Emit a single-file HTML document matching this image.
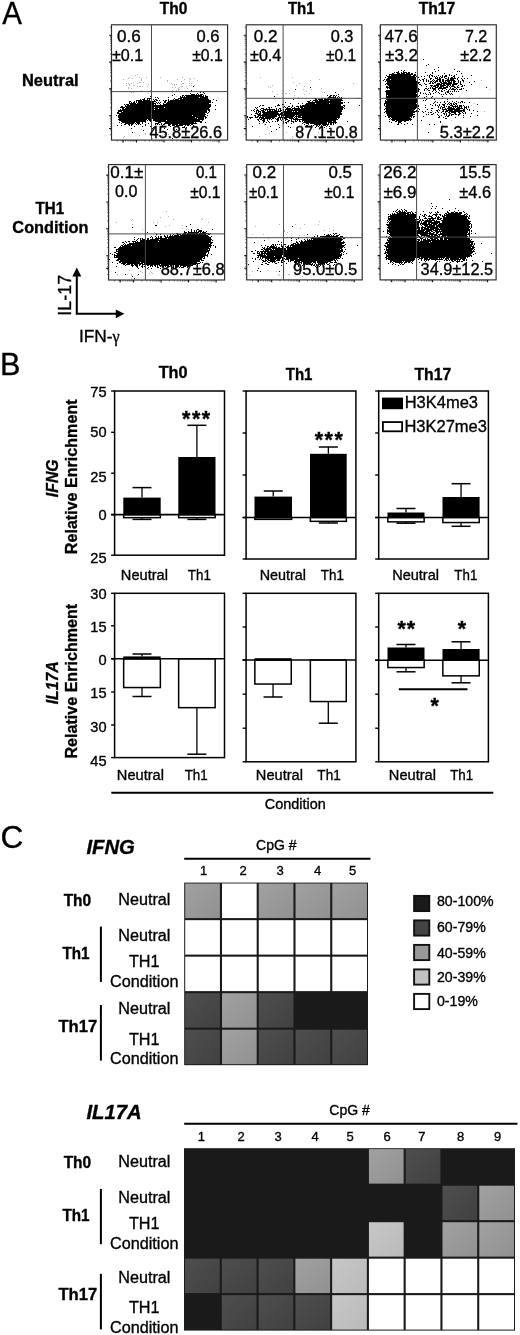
<!DOCTYPE html>
<html lang="en">
<head>
<meta charset="utf-8">
<title>Figure: Th0 / Th1 / Th17 cytokine expression, histone marks and CpG methylation</title>
<style>
html,body{margin:0;padding:0;background:#fff;}
body{width:520px;height:1335px;overflow:hidden;font-family:"Liberation Sans", sans-serif;}
svg{display:block;}
svg text{stroke:#000;stroke-width:.34px;}
</style>
</head>
<body>
<svg width="520" height="1335" viewBox="0 0 520 1335" font-family='"Liberation Sans", sans-serif' fill="#000">
<defs><filter id="sf" x="-5%" y="-5%" width="110%" height="110%"><feGaussianBlur stdDeviation="0.45"/></filter><linearGradient id="gD" x1="0" y1="0" x2="1" y2="1"><stop offset="0" stop-color="#4e4e4e"/><stop offset="1" stop-color="#414141"/></linearGradient><linearGradient id="gM" x1="0" y1="0" x2="1" y2="1"><stop offset="0" stop-color="#a1a1a1"/><stop offset="1" stop-color="#919191"/></linearGradient><linearGradient id="gL" x1="0" y1="0" x2="1" y2="1"><stop offset="0" stop-color="#c7c7c7"/><stop offset="1" stop-color="#bababa"/></linearGradient></defs>
<path d="M137 74h1M135 75h1M129 77h1M139 77h1M146 77h1M160 77h1M182 77h1M128 78h1M132 78h1M141 78h1M189 78h1M194 78h1M123 79h1M141 79h1M177 79h1M184 79h1M190 79h1M141 80h1M167 80h1M197 80h1M167 81h1M181 81h1M189 81h1M133 82h1M139 82h2M143 82h1M126 83h1M128 83h1M131 83h1M137 83h1M171 83h1M182 83h2M189 83h1M191 83h1M129 84h1M148 84h1M172 84h1M174 84h1M176 84h1M181 84h1M126 85h1M129 85h1M133 85h1M151 85h1M174 85h1M189 85h1M191 85h1M194 85h1M137 86h1M139 86h2M142 86h1M147 86h1M181 86h2M186 86h1M128 87h1M172 87h1M175 87h1M179 87h1M128 88h1M131 88h1M178 88h1M187 88h1M178 89h2M141 90h1M150 90h1M172 90h1M176 90h1M178 90h1M124 91h1M130 91h1M133 91h1M171 91h1M180 91h1M185 91h1M131 92h1M133 92h1M172 92h1M148 93h1M176 96h1M145 97h1M179 98h1M161 127h1M196 127h1M141 129h1M162 131h1M134 132h1M150 132h1M158 132h1M166 132h1M207 132h1M145 133h1M174 133h1M206 133h1M145 134h1M164 134h1M168 134h1M180 134h1M139 135h1M154 135h1M162 135h1M124 136h1M185 136h1M123 137h1M152 138h1M196 138h1" stroke="#b5b5b5" stroke-width="1" fill="none" transform="translate(0,0.5)" shape-rendering="crispEdges"/>
<path d="M193 86h1M191 90h1M200 92h1M203 92h1M190 93h1M197 93h1M204 93h1M174 94h1M191 94h4M196 94h1M198 94h1M200 94h3M172 95h1M182 95h2M185 95h17M203 95h1M205 95h1M150 96h1M180 96h1M182 96h1M184 96h1M186 96h18M205 96h3M151 97h1M155 97h1M157 97h1M168 97h1M180 97h19M200 97h8M144 98h1M147 98h4M158 98h1M174 98h1M178 98h4M183 98h25M140 99h1M142 99h3M147 99h1M149 99h1M151 99h1M153 99h1M155 99h2M168 99h1M173 99h1M175 99h4M180 99h29M213 99h1M136 100h6M143 100h7M154 100h1M156 100h2M159 100h1M163 100h1M165 100h2M168 100h1M170 100h41M216 100h1M129 101h2M134 101h1M136 101h1M138 101h18M164 101h2M168 101h43M129 102h1M131 102h1M133 102h2M136 102h1M138 102h16M156 102h1M158 102h1M160 102h1M164 102h2M167 102h44M212 102h1M129 103h7M137 103h19M157 103h1M159 103h1M163 103h1M166 103h43M124 104h1M126 104h3M130 104h24M155 104h1M160 104h1M163 104h48M125 105h1M127 105h84M215 105h1M121 106h2M125 106h86M120 107h5M126 107h28M155 107h9M165 107h45M122 108h2M125 108h33M159 108h50M120 109h1M122 109h32M155 109h55M215 109h1M118 110h89M208 110h2M118 111h4M123 111h84M209 111h1M117 112h2M121 112h86M208 112h1M117 113h88M207 113h1M119 114h87M116 115h1M118 115h74M193 115h12M207 115h1M118 116h88M118 117h77M196 117h8M205 117h2M119 118h78M198 118h6M205 118h1M118 119h29M148 119h4M153 119h51M119 120h27M147 120h1M149 120h3M153 120h13M167 120h33M202 120h1M121 121h25M150 121h2M155 121h47M119 122h1M122 122h13M136 122h4M142 122h1M145 122h1M158 122h3M165 122h29M195 122h1M200 122h2M205 122h1M121 123h1M125 123h9M135 123h1M137 123h3M142 123h1M148 123h1M151 123h1M155 123h4M161 123h1M164 123h33M124 124h2M128 124h2M131 124h2M136 124h1M138 124h1M140 124h1M145 124h1M155 124h1M157 124h1M159 124h1M161 124h1M163 124h2M168 124h3M172 124h6M179 124h11M191 124h2M117 125h1M121 125h1M129 125h1M131 125h1M145 125h1M151 125h1M162 125h1M168 125h2M172 125h3M176 125h7M185 125h1M187 125h2M190 125h1M193 125h1M134 126h1M142 126h1M150 126h1M170 126h1M176 126h1M178 126h1M184 126h1M153 127h1M173 127h1M182 127h3M186 127h1M131 128h1M151 128h2M164 128h1M167 129h1M176 129h1M143 130h1M132 132h1M156 132h1M172 138h1" stroke="#000" stroke-width="1" fill="none" transform="translate(0,0.5)" filter="url(#sf)"/>
<rect x="111.5" y="24.8" width="116.1" height="115.3" fill="none" stroke="#2a2a2a" stroke-width="1.15"/>
<line x1="151.5" y1="24.8" x2="151.5" y2="140.1" stroke="#4a4a4a" stroke-width="1"/>
<line x1="111.5" y1="91.6" x2="227.6" y2="91.6" stroke="#4a4a4a" stroke-width="1"/>
<path d="M110.0 134.6H111.5M117.3 140.1V141.6M110.0 129.8H111.5M122.1 140.1V141.6M110.0 126.5H111.5M125.6 140.1V141.6M110.0 123.9H111.5M128.2 140.1V141.6M110.0 121.8H111.5M130.4 140.1V141.6M110.0 120.0H111.5M132.2 140.1V141.6M110.0 118.4H111.5M133.8 140.1V141.6M110.0 117.0H111.5M135.2 140.1V141.6M110.0 107.7H111.5M144.8 140.1V141.6M110.0 103.0H111.5M149.6 140.1V141.6M110.0 99.6H111.5M153.1 140.1V141.6M110.0 97.0H111.5M155.7 140.1V141.6M110.0 94.9H111.5M157.9 140.1V141.6M110.0 93.1H111.5M159.7 140.1V141.6M110.0 91.6H111.5M161.3 140.1V141.6M110.0 90.2H111.5M162.7 140.1V141.6M110.0 80.9H111.5M172.3 140.1V141.6M110.0 76.1H111.5M177.1 140.1V141.6M110.0 72.8H111.5M180.6 140.1V141.6M110.0 70.2H111.5M183.2 140.1V141.6M110.0 68.1H111.5M185.4 140.1V141.6M110.0 66.3H111.5M187.2 140.1V141.6M110.0 64.7H111.5M188.8 140.1V141.6M110.0 63.3H111.5M190.2 140.1V141.6M110.0 54.0H111.5M199.8 140.1V141.6M110.0 49.3H111.5M204.6 140.1V141.6M110.0 45.9H111.5M208.1 140.1V141.6M110.0 43.3H111.5M210.7 140.1V141.6M110.0 41.2H111.5M212.9 140.1V141.6M110.0 39.4H111.5M214.7 140.1V141.6M110.0 37.9H111.5M216.3 140.1V141.6M110.0 36.5H111.5M217.7 140.1V141.6M110.0 27.2H111.5" stroke="#333" stroke-width="0.7" fill="none"/>
<path d="M109.1 115.8H111.5M136.5 140.1V142.5M109.1 88.9H111.5M164.0 140.1V142.5M109.1 62.1H111.5M191.5 140.1V142.5M109.1 35.2H111.5M219.0 140.1V142.5M109.1 128.5H111.5M123.1 140.1V142.5" stroke="#111" stroke-width="1.1" fill="none"/>
<text transform="translate(116.93 41.9) scale(1.0600 1)" font-size="16.1">0.6</text>
<text x="111.94" y="61.0" font-size="16.1">±0.1</text>
<text transform="translate(196.54 41.9) scale(1.0281 1)" font-size="16.1">0.6</text>
<text transform="translate(192.13 61.0) scale(0.9818 1)" font-size="16.1">±0.1</text>
<text transform="translate(149.39 138.4) scale(1.0162 1)" font-size="16.1">45.8±26.6</text>
<path d="M260 77h1M292 77h1M319 79h1M310 80h1M293 82h1M247 83h1M299 83h1M353 83h1M272 85h1M283 85h1M296 85h1M268 86h1M304 86h1M270 87h1M321 88h1M303 89h1M311 89h1M343 89h1M289 90h1M272 91h1M294 91h1M306 91h1M322 92h1M324 92h1M282 93h1M285 93h2M289 93h1M309 93h1M277 94h1M304 94h1M294 95h1M298 97h1M279 98h1M313 119h1M288 122h1M262 123h1M264 124h1M282 124h1M279 125h1M301 125h1M267 127h1M326 128h1M313 129h1M301 130h1M323 130h1M286 132h1M318 132h1M269 133h1M265 134h1M283 134h1M330 134h1M259 136h1M292 136h1M318 136h1M292 138h1" stroke="#b5b5b5" stroke-width="1" fill="none" transform="translate(0,0.5)" shape-rendering="crispEdges"/>
<path d="M310 87h1M295 89h1M335 92h1M338 94h1M327 95h1M330 95h2M333 95h2M336 95h1M274 96h1M329 96h2M333 96h1M335 96h1M338 96h1M328 97h8M337 97h1M339 97h1M341 97h1M314 98h2M321 98h2M324 98h2M327 98h3M333 98h6M340 98h3M358 98h1M293 99h1M315 99h2M318 99h5M324 99h18M310 100h1M313 100h5M319 100h10M330 100h13M307 101h3M312 101h1M315 101h26M285 102h1M308 102h35M344 102h1M348 102h1M290 103h1M298 103h1M302 103h1M306 103h9M316 103h13M330 103h13M278 104h1M282 104h2M305 104h36M260 105h1M262 105h2M277 105h3M292 105h1M300 105h1M302 105h39M343 105h2M359 105h1M259 106h1M275 106h1M284 106h1M288 106h2M292 106h1M296 106h3M300 106h43M344 106h1M255 107h1M257 107h1M268 107h2M271 107h1M283 107h1M285 107h1M287 107h1M291 107h1M294 107h1M298 107h1M300 107h3M304 107h40M256 108h1M261 108h3M266 108h1M269 108h1M276 108h1M279 108h2M286 108h5M292 108h8M301 108h42M344 108h1M254 109h1M257 109h1M260 109h1M263 109h12M276 109h1M278 109h1M280 109h1M283 109h1M285 109h8M294 109h49M251 110h1M253 110h1M256 110h3M261 110h3M265 110h1M267 110h1M269 110h2M272 110h1M274 110h3M278 110h1M280 110h2M283 110h1M285 110h1M287 110h55M254 111h1M256 111h1M258 111h3M262 111h3M267 111h14M283 111h9M293 111h1M295 111h2M298 111h44M256 112h1M258 112h1M260 112h1M262 112h16M281 112h60M255 113h3M259 113h2M263 113h16M280 113h3M284 113h58M251 114h1M257 114h4M262 114h80M254 115h2M258 115h19M278 115h2M281 115h14M296 115h1M298 115h42M247 116h1M255 116h1M257 116h2M260 116h1M262 116h15M279 116h1M281 116h1M283 116h1M285 116h9M295 116h6M302 116h38M247 117h1M249 117h4M255 117h3M259 117h5M265 117h10M278 117h15M294 117h1M296 117h1M298 117h42M250 118h1M259 118h1M261 118h10M272 118h2M275 118h1M277 118h2M280 118h1M282 118h1M284 118h3M289 118h5M295 118h3M302 118h35M338 118h1M248 119h1M257 119h2M260 119h2M263 119h2M267 119h1M269 119h1M271 119h1M276 119h3M280 119h1M282 119h1M285 119h3M291 119h1M293 119h45M258 120h1M262 120h3M267 120h1M277 120h2M281 120h1M285 120h1M288 120h2M291 120h1M295 120h1M297 120h1M299 120h1M302 120h34M259 121h1M263 121h2M268 121h1M272 121h1M275 121h1M277 121h1M283 121h1M287 121h2M291 121h3M295 121h2M299 121h2M302 121h1M304 121h28M333 121h3M347 121h1M263 122h1M266 122h1M269 122h1M283 122h1M285 122h2M293 122h1M303 122h24M328 122h9M259 123h1M283 123h1M286 123h1M291 123h1M302 123h1M306 123h3M310 123h17M328 123h1M330 123h2M333 123h1M335 123h1M265 124h1M278 124h1M304 124h1M308 124h1M314 124h7M322 124h7M330 124h2M333 124h1M306 125h2M311 125h1M313 125h1M316 125h2M319 125h1M321 125h1M323 125h3M327 125h1M252 126h1M270 126h1M288 126h1M316 126h1M318 126h1M321 126h1M326 126h1M329 126h1M279 127h1M290 127h1M315 127h1M324 127h1M329 128h1M276 129h1M271 131h1" stroke="#000" stroke-width="1" fill="none" transform="translate(0,0.5)" filter="url(#sf)"/>
<rect x="246.2" y="24.8" width="115.7" height="115.3" fill="none" stroke="#2a2a2a" stroke-width="1.15"/>
<line x1="283.1" y1="24.8" x2="283.1" y2="140.1" stroke="#4a4a4a" stroke-width="1"/>
<line x1="246.2" y1="98.3" x2="361.9" y2="98.3" stroke="#4a4a4a" stroke-width="1"/>
<path d="M244.7 134.6H246.2M252.0 140.1V141.6M244.7 129.8H246.2M256.8 140.1V141.6M244.7 126.5H246.2M260.3 140.1V141.6M244.7 123.9H246.2M262.9 140.1V141.6M244.7 121.8H246.2M265.1 140.1V141.6M244.7 120.0H246.2M266.9 140.1V141.6M244.7 118.4H246.2M268.5 140.1V141.6M244.7 117.0H246.2M269.9 140.1V141.6M244.7 107.7H246.2M279.5 140.1V141.6M244.7 103.0H246.2M284.3 140.1V141.6M244.7 99.6H246.2M287.8 140.1V141.6M244.7 97.0H246.2M290.4 140.1V141.6M244.7 94.9H246.2M292.6 140.1V141.6M244.7 93.1H246.2M294.4 140.1V141.6M244.7 91.6H246.2M296.0 140.1V141.6M244.7 90.2H246.2M297.4 140.1V141.6M244.7 80.9H246.2M307.0 140.1V141.6M244.7 76.1H246.2M311.8 140.1V141.6M244.7 72.8H246.2M315.3 140.1V141.6M244.7 70.2H246.2M317.9 140.1V141.6M244.7 68.1H246.2M320.1 140.1V141.6M244.7 66.3H246.2M321.9 140.1V141.6M244.7 64.7H246.2M323.5 140.1V141.6M244.7 63.3H246.2M324.9 140.1V141.6M244.7 54.0H246.2M334.5 140.1V141.6M244.7 49.3H246.2M339.3 140.1V141.6M244.7 45.9H246.2M342.8 140.1V141.6M244.7 43.3H246.2M345.4 140.1V141.6M244.7 41.2H246.2M347.6 140.1V141.6M244.7 39.4H246.2M349.4 140.1V141.6M244.7 37.9H246.2M351.0 140.1V141.6M244.7 36.5H246.2M352.4 140.1V141.6M244.7 27.2H246.2" stroke="#333" stroke-width="0.7" fill="none"/>
<path d="M243.8 115.8H246.2M271.2 140.1V142.5M243.8 88.9H246.2M298.7 140.1V142.5M243.8 62.1H246.2M326.2 140.1V142.5M243.8 35.2H246.2M353.7 140.1V142.5M243.8 128.5H246.2M257.8 140.1V142.5" stroke="#111" stroke-width="1.1" fill="none"/>
<text transform="translate(253.77 41.8) scale(1.0600 1)" font-size="16.1">0.2</text>
<text x="250.08" y="60.8" font-size="16.1">±0.4</text>
<text transform="translate(330.75 41.8) scale(1.0138 1)" font-size="16.1">0.3</text>
<text transform="translate(326.03 60.8) scale(0.9651 1)" font-size="16.1">±0.1</text>
<text x="295.24" y="137.9" font-size="16.1">87.1±0.8</text>
<path d="M458 70h1M452 72h1M462 75h1M481 80h1M448 82h1M463 82h1M435 83h1M430 85h1M446 86h1M415 87h1M459 87h1M490 89h1M426 90h1M416 91h1M446 91h1M459 96h1M432 98h1M460 103h1M474 103h1M450 105h1M471 105h1M451 106h1M468 107h1M432 108h1M432 111h1M484 111h1M451 120h1M429 124h1M442 124h1M472 131h1" stroke="#b5b5b5" stroke-width="1" fill="none" transform="translate(0,0.5)" shape-rendering="crispEdges"/>
<path d="M423 59h1M428 64h1M426 65h1M438 67h1M434 69h1M454 69h1M401 70h1M404 70h1M438 70h1M398 71h1M403 71h1M435 71h1M457 71h1M459 71h1M394 72h1M396 72h3M401 72h1M403 72h4M408 72h2M415 72h1M425 72h1M432 72h1M392 73h2M397 73h3M401 73h4M406 73h4M411 73h2M432 73h1M444 73h1M461 73h1M389 74h24M414 74h2M430 74h1M449 74h1M456 74h1M386 75h1M389 75h1M391 75h20M413 75h3M427 75h1M429 75h1M431 75h2M438 75h1M442 75h1M445 75h2M449 75h1M451 75h1M454 75h1M471 75h1M387 76h28M416 76h1M421 76h1M424 76h1M429 76h1M432 76h1M434 76h1M436 76h1M440 76h1M442 76h1M444 76h3M453 76h2M462 76h1M385 77h1M388 77h28M418 77h1M429 77h1M435 77h1M437 77h1M439 77h1M441 77h2M444 77h1M448 77h1M451 77h2M454 77h1M458 77h1M387 78h29M424 78h1M430 78h2M435 78h3M439 78h2M445 78h2M448 78h1M450 78h6M457 78h1M461 78h1M464 78h1M467 78h1M384 79h1M386 79h4M391 79h25M419 79h1M422 79h2M426 79h1M430 79h1M433 79h1M437 79h4M442 79h2M447 79h2M450 79h4M457 79h1M462 79h1M383 80h1M386 80h30M417 80h1M420 80h1M423 80h1M426 80h1M428 80h1M432 80h1M434 80h1M436 80h2M439 80h2M442 80h2M445 80h10M458 80h1M462 80h2M385 81h1M387 81h31M423 81h1M426 81h1M428 81h1M430 81h2M433 81h1M435 81h3M439 81h2M442 81h2M445 81h1M447 81h3M451 81h1M453 81h3M458 81h1M460 81h1M463 81h1M474 81h1M387 82h33M430 82h1M432 82h1M434 82h2M440 82h2M443 82h4M448 82h4M453 82h2M458 82h1M460 82h1M469 82h1M386 83h33M424 83h1M429 83h2M432 83h2M437 83h3M441 83h11M453 83h5M460 83h1M385 84h1M387 84h31M419 84h2M425 84h2M436 84h6M443 84h2M446 84h5M452 84h5M460 84h2M471 84h1M388 85h30M421 85h1M430 85h3M434 85h5M440 85h6M447 85h2M450 85h1M452 85h2M458 85h1M462 85h1M464 85h1M386 86h2M389 86h29M426 86h1M431 86h1M433 86h3M437 86h2M440 86h4M446 86h2M449 86h1M451 86h4M457 86h1M461 86h2M386 87h32M430 87h1M432 87h1M435 87h3M439 87h3M443 87h5M450 87h1M454 87h2M457 87h2M486 87h1M387 88h1M389 88h30M425 88h2M428 88h1M430 88h1M432 88h4M438 88h8M450 88h1M452 88h2M456 88h1M461 88h1M463 88h1M390 89h27M418 89h2M424 89h1M427 89h1M433 89h3M438 89h1M442 89h1M446 89h1M449 89h1M451 89h5M457 89h1M459 89h3M386 90h33M424 90h1M428 90h2M433 90h1M435 90h1M439 90h1M441 90h1M444 90h1M448 90h1M454 90h1M466 90h1M385 91h34M432 91h1M436 91h1M441 91h2M447 91h2M450 91h1M452 91h1M454 91h1M456 91h1M458 91h1M386 92h32M420 92h1M429 92h1M435 92h1M438 92h1M445 92h1M447 92h2M386 93h30M420 93h1M423 93h1M425 93h1M430 93h1M433 93h1M439 93h1M445 93h1M449 93h1M451 93h1M386 94h32M426 94h1M428 94h1M430 94h1M441 94h1M443 94h1M446 94h1M450 94h1M452 94h1M386 95h1M388 95h30M419 95h1M386 96h33M426 96h1M432 96h1M442 96h1M386 97h30M424 97h1M431 97h1M385 98h1M387 98h30M442 98h1M386 99h32M426 99h1M434 99h1M447 99h1M385 100h1M387 100h31M423 100h1M425 100h1M385 101h33M435 101h1M444 101h1M447 101h1M452 101h1M456 101h1M461 101h2M385 102h32M434 102h1M437 102h1M440 102h1M444 102h1M449 102h1M454 102h1M458 102h1M460 102h1M462 102h1M464 102h1M469 102h1M384 103h32M417 103h1M433 103h1M445 103h1M448 103h1M450 103h2M453 103h1M455 103h2M384 104h1M386 104h31M430 104h1M435 104h1M439 104h1M442 104h3M447 104h1M449 104h1M451 104h1M453 104h2M456 104h1M477 104h1M384 105h1M386 105h31M418 105h1M425 105h1M432 105h1M435 105h1M437 105h1M439 105h1M443 105h2M450 105h3M455 105h1M457 105h1M459 105h3M463 105h1M385 106h32M418 106h1M438 106h1M441 106h1M444 106h1M446 106h1M448 106h2M452 106h6M459 106h3M464 106h1M466 106h1M468 106h1M386 107h31M425 107h1M438 107h1M440 107h1M442 107h3M448 107h4M453 107h1M455 107h1M457 107h3M461 107h1M464 107h3M468 107h1M385 108h31M418 108h1M431 108h2M440 108h1M442 108h1M445 108h1M447 108h8M456 108h7M464 108h1M466 108h1M384 109h1M386 109h29M419 109h1M427 109h1M438 109h1M442 109h5M448 109h12M463 109h2M467 109h1M469 109h1M386 110h28M416 110h1M431 110h1M436 110h2M439 110h1M443 110h1M446 110h7M454 110h11M469 110h1M473 110h1M385 111h32M418 111h1M422 111h1M425 111h1M437 111h1M442 111h2M445 111h3M449 111h13M463 111h2M477 111h1M384 112h1M386 112h29M423 112h1M428 112h1M430 112h2M435 112h1M438 112h1M441 112h1M445 112h1M448 112h2M451 112h5M458 112h2M462 112h1M465 112h1M386 113h27M417 113h1M433 113h1M443 113h2M446 113h1M449 113h2M454 113h2M459 113h2M463 113h1M465 113h1M471 113h1M387 114h28M426 114h1M428 114h1M431 114h2M437 114h1M444 114h1M446 114h1M449 114h1M451 114h3M455 114h2M458 114h2M387 115h26M438 115h1M441 115h1M446 115h1M448 115h2M451 115h1M458 115h1M463 115h1M477 115h1M385 116h1M388 116h24M413 116h2M423 116h1M439 116h1M445 116h1M447 116h2M470 116h1M388 117h2M391 117h19M411 117h1M413 117h1M438 117h2M443 117h1M455 117h1M463 117h1M390 118h1M392 118h19M445 118h2M389 119h1M391 119h21M392 120h3M396 120h13M410 120h1M417 120h1M421 120h1M389 121h1M395 121h2M398 121h4M404 121h2M440 121h1M391 122h1M398 122h3M440 122h1M398 123h1M401 123h1M407 123h1M397 124h2M404 124h1M412 124h1M429 124h1M434 124h1M428 132h1" stroke="#000" stroke-width="1" fill="none" transform="translate(0,0.5)" filter="url(#sf)"/>
<rect x="380.4" y="24.8" width="115.9" height="115.3" fill="none" stroke="#2a2a2a" stroke-width="1.15"/>
<line x1="417.4" y1="24.8" x2="417.4" y2="140.1" stroke="#4a4a4a" stroke-width="1"/>
<line x1="380.4" y1="98.3" x2="496.3" y2="98.3" stroke="#4a4a4a" stroke-width="1"/>
<path d="M378.9 134.6H380.4M386.2 140.1V141.6M378.9 129.8H380.4M391.0 140.1V141.6M378.9 126.5H380.4M394.5 140.1V141.6M378.9 123.9H380.4M397.1 140.1V141.6M378.9 121.8H380.4M399.3 140.1V141.6M378.9 120.0H380.4M401.1 140.1V141.6M378.9 118.4H380.4M402.7 140.1V141.6M378.9 117.0H380.4M404.1 140.1V141.6M378.9 107.7H380.4M413.7 140.1V141.6M378.9 103.0H380.4M418.5 140.1V141.6M378.9 99.6H380.4M422.0 140.1V141.6M378.9 97.0H380.4M424.6 140.1V141.6M378.9 94.9H380.4M426.8 140.1V141.6M378.9 93.1H380.4M428.6 140.1V141.6M378.9 91.6H380.4M430.2 140.1V141.6M378.9 90.2H380.4M431.6 140.1V141.6M378.9 80.9H380.4M441.2 140.1V141.6M378.9 76.1H380.4M446.0 140.1V141.6M378.9 72.8H380.4M449.5 140.1V141.6M378.9 70.2H380.4M452.1 140.1V141.6M378.9 68.1H380.4M454.3 140.1V141.6M378.9 66.3H380.4M456.1 140.1V141.6M378.9 64.7H380.4M457.7 140.1V141.6M378.9 63.3H380.4M459.1 140.1V141.6M378.9 54.0H380.4M468.7 140.1V141.6M378.9 49.3H380.4M473.5 140.1V141.6M378.9 45.9H380.4M477.0 140.1V141.6M378.9 43.3H380.4M479.6 140.1V141.6M378.9 41.2H380.4M481.8 140.1V141.6M378.9 39.4H380.4M483.6 140.1V141.6M378.9 37.9H380.4M485.2 140.1V141.6M378.9 36.5H380.4M486.6 140.1V141.6M378.9 27.2H380.4" stroke="#333" stroke-width="0.7" fill="none"/>
<path d="M378.0 115.8H380.4M405.4 140.1V142.5M378.0 88.9H380.4M432.9 140.1V142.5M378.0 62.1H380.4M460.4 140.1V142.5M378.0 35.2H380.4M487.9 140.1V142.5M378.0 128.5H380.4M392.0 140.1V142.5" stroke="#111" stroke-width="1.1" fill="none"/>
<text transform="translate(384.52 41.8) scale(1.0600 1)" font-size="16.1">47.6</text>
<text transform="translate(385.09 60.8) scale(1.0519 1)" font-size="16.1">±3.2</text>
<text x="464.91" y="41.8" font-size="16.1">7.2</text>
<text x="460.34" y="60.8" font-size="16.1">±2.2</text>
<text transform="translate(439.84 137.9) scale(1.0237 1)" font-size="16.1">5.3±2.2</text>
<path d="M166 211h1M168 216h1M160 217h1M201 218h1M132 219h1M173 219h1M202 219h1M131 220h1M116 222h1M153 222h1M157 222h1M208 222h1M132 224h1M169 225h1M182 225h1M165 226h1M182 228h1M201 228h1M142 229h1M186 229h1M188 229h1M198 230h1M154 232h1M157 234h1M156 235h1M185 237h1M141 238h1M172 240h1M129 242h1M148 269h1M129 270h1M140 271h1M150 271h1M161 271h1M142 272h1M151 272h1M170 272h1M149 273h1M152 273h1M117 274h1M127 274h1M131 274h1M175 274h1M131 275h1M137 275h1M145 275h1M131 278h1" stroke="#b5b5b5" stroke-width="1" fill="none" transform="translate(0,0.5)" shape-rendering="crispEdges"/>
<path d="M190 224h1M155 225h2M186 226h1M132 227h1M191 229h1M197 229h2M212 229h1M191 230h1M194 230h1M196 230h1M199 230h3M184 231h1M188 231h1M191 231h1M194 231h1M196 231h1M198 231h4M203 231h1M206 231h1M147 232h1M184 232h3M188 232h11M200 232h1M202 232h4M176 233h2M183 233h3M187 233h11M199 233h10M210 233h1M156 234h1M160 234h1M170 234h1M173 234h1M177 234h4M182 234h24M208 234h2M164 235h1M167 235h1M170 235h1M172 235h1M174 235h5M180 235h28M151 236h1M155 236h1M158 236h1M160 236h2M164 236h2M167 236h1M169 236h40M211 236h1M134 237h1M150 237h1M152 237h1M156 237h1M158 237h1M160 237h2M165 237h46M138 238h1M140 238h1M142 238h1M147 238h2M152 238h1M155 238h12M168 238h43M134 239h1M137 239h1M140 239h1M142 239h3M147 239h2M150 239h9M160 239h52M136 240h1M140 240h71M212 240h1M125 241h1M128 241h2M132 241h4M137 241h1M140 241h18M159 241h52M122 242h2M126 242h1M133 242h1M135 242h78M124 243h1M129 243h80M210 243h2M123 244h1M125 244h1M127 244h84M121 245h2M124 245h7M132 245h80M213 245h1M120 246h1M122 246h89M215 246h1M114 247h2M119 247h90M210 247h1M215 247h1M118 248h92M116 249h92M209 249h1M116 250h1M118 250h92M116 251h93M114 252h2M118 252h89M208 252h1M110 253h1M116 253h90M208 253h1M112 254h1M114 254h1M117 254h89M207 254h1M211 254h1M114 255h94M114 256h1M116 256h89M207 256h1M114 257h89M204 257h1M118 258h84M203 258h2M109 259h1M117 259h85M116 260h3M120 260h80M201 260h3M119 261h81M112 262h1M119 262h2M122 262h18M141 262h56M200 262h1M202 262h1M117 263h1M121 263h5M127 263h16M144 263h56M123 264h2M126 264h4M131 264h2M134 264h4M139 264h2M142 264h18M161 264h6M168 264h23M192 264h4M197 264h1M125 265h1M131 265h3M135 265h3M139 265h1M142 265h1M145 265h1M147 265h2M150 265h3M154 265h2M157 265h1M159 265h10M170 265h2M173 265h1M175 265h4M180 265h13M116 266h1M132 266h1M136 266h2M141 266h2M144 266h1M150 266h1M152 266h1M155 266h1M157 266h1M160 266h1M162 266h2M165 266h1M167 266h3M173 266h1M175 266h4M180 266h1M183 266h3M187 266h3M137 267h1M142 267h1M148 267h1M157 267h2M171 267h1M173 267h1M175 267h1M179 267h1M181 267h3M187 267h1M138 268h1M147 268h1M151 268h1M160 268h1M165 268h1M171 268h1M168 269h1M176 269h1M115 272h1M125 274h1M138 274h1M132 276h1M134 278h1" stroke="#000" stroke-width="1" fill="none" transform="translate(0,0.5)" filter="url(#sf)"/>
<rect x="108.6" y="164.6" width="116.0" height="115.4" fill="none" stroke="#2a2a2a" stroke-width="1.15"/>
<line x1="145.4" y1="164.6" x2="145.4" y2="280" stroke="#4a4a4a" stroke-width="1"/>
<line x1="108.6" y1="233.9" x2="224.6" y2="233.9" stroke="#4a4a4a" stroke-width="1"/>
<path d="M107.1 274.5H108.6M114.4 280.0V281.5M107.1 269.7H108.6M119.2 280.0V281.5M107.1 266.4H108.6M122.7 280.0V281.5M107.1 263.8H108.6M125.3 280.0V281.5M107.1 261.7H108.6M127.5 280.0V281.5M107.1 259.9H108.6M129.3 280.0V281.5M107.1 258.3H108.6M130.9 280.0V281.5M107.1 256.9H108.6M132.3 280.0V281.5M107.1 247.6H108.6M141.9 280.0V281.5M107.1 242.9H108.6M146.7 280.0V281.5M107.1 239.5H108.6M150.2 280.0V281.5M107.1 236.9H108.6M152.8 280.0V281.5M107.1 234.8H108.6M155.0 280.0V281.5M107.1 233.0H108.6M156.8 280.0V281.5M107.1 231.5H108.6M158.4 280.0V281.5M107.1 230.1H108.6M159.8 280.0V281.5M107.1 220.8H108.6M169.4 280.0V281.5M107.1 216.0H108.6M174.2 280.0V281.5M107.1 212.7H108.6M177.7 280.0V281.5M107.1 210.1H108.6M180.3 280.0V281.5M107.1 208.0H108.6M182.5 280.0V281.5M107.1 206.2H108.6M184.3 280.0V281.5M107.1 204.6H108.6M185.9 280.0V281.5M107.1 203.2H108.6M187.3 280.0V281.5M107.1 193.9H108.6M196.9 280.0V281.5M107.1 189.2H108.6M201.7 280.0V281.5M107.1 185.8H108.6M205.2 280.0V281.5M107.1 183.2H108.6M207.8 280.0V281.5M107.1 181.1H108.6M210.0 280.0V281.5M107.1 179.3H108.6M211.8 280.0V281.5M107.1 177.8H108.6M213.4 280.0V281.5M107.1 176.4H108.6M214.8 280.0V281.5M107.1 167.1H108.6" stroke="#333" stroke-width="0.7" fill="none"/>
<path d="M106.2 255.7H108.6M133.6 280.0V282.4M106.2 228.8H108.6M161.1 280.0V282.4M106.2 202.0H108.6M188.6 280.0V282.4M106.2 175.1H108.6M216.1 280.0V282.4M106.2 268.4H108.6M120.2 280.0V282.4" stroke="#111" stroke-width="1.1" fill="none"/>
<text transform="translate(110.31 177.9) scale(1.0600 1)" font-size="16.1">0.1±</text>
<text x="115.11" y="197.2" font-size="16.1">0.0</text>
<text transform="translate(195.91 177.9) scale(0.9400 1)" font-size="16.1">0.1</text>
<text transform="translate(190.23 197.5) scale(0.9717 1)" font-size="16.1">±0.1</text>
<text transform="translate(160.66 274.8) scale(1.0216 1)" font-size="16.1">88.7±6.8</text>
<path d="M319 221h1M279 224h1M295 224h1M304 224h1M318 224h1M255 226h1M300 228h1M329 228h1M283 230h2M324 230h1M333 230h1M284 231h1M329 231h1M287 232h1M252 234h1M263 234h1M286 234h1M315 234h1M327 234h1M361 234h1M299 235h1M304 235h1M326 236h1M268 238h1M307 238h1M315 239h1M291 242h1M331 262h1M295 269h1M304 269h1M267 270h1M298 270h1M321 270h1M351 270h1M252 271h1M276 271h1M299 271h1M278 274h1M288 274h2M249 275h1M279 275h1M302 276h1M281 277h1" stroke="#b5b5b5" stroke-width="1" fill="none" transform="translate(0,0.5)" shape-rendering="crispEdges"/>
<path d="M292 226h1M333 233h1M335 233h2M307 234h1M324 234h1M328 234h1M330 234h1M334 234h1M339 234h1M317 235h1M326 235h4M331 235h1M333 235h1M336 235h3M314 236h1M317 236h1M320 236h18M340 236h3M287 237h1M306 237h1M312 237h2M318 237h2M322 237h1M324 237h17M342 237h1M291 238h1M298 238h1M311 238h31M343 238h2M296 239h1M304 239h1M307 239h1M309 239h1M311 239h1M313 239h30M264 240h1M291 240h1M301 240h1M305 240h1M307 240h35M278 241h1M296 241h1M299 241h1M301 241h2M304 241h37M343 241h1M254 242h1M281 242h1M296 242h2M300 242h45M293 243h3M297 243h2M300 243h44M272 244h2M275 244h1M277 244h1M279 244h1M281 244h1M284 244h2M291 244h3M295 244h47M345 244h1M261 245h1M265 245h1M271 245h1M273 245h1M275 245h1M281 245h1M288 245h1M290 245h55M357 245h1M267 246h2M270 246h5M276 246h1M281 246h2M285 246h1M287 246h2M290 246h1M292 246h52M262 247h1M264 247h1M267 247h1M269 247h8M278 247h2M282 247h2M286 247h57M344 247h1M263 248h2M266 248h5M272 248h14M287 248h55M261 249h2M264 249h8M273 249h1M275 249h11M287 249h53M341 249h2M345 249h1M255 250h1M263 250h1M265 250h4M270 250h73M251 251h2M257 251h2M260 251h83M344 251h1M257 252h1M259 252h1M261 252h2M264 252h2M267 252h74M343 252h1M253 253h2M257 253h3M261 253h79M341 253h1M346 253h1M259 254h4M264 254h1M266 254h76M343 254h1M257 255h9M267 255h15M283 255h59M258 256h1M260 256h14M275 256h7M283 256h58M257 257h2M260 257h1M262 257h22M286 257h53M340 257h1M252 258h1M255 258h1M260 258h1M262 258h1M265 258h16M282 258h3M286 258h12M299 258h41M342 258h1M255 259h1M259 259h1M261 259h1M265 259h1M267 259h2M270 259h6M277 259h3M282 259h2M285 259h4M290 259h45M336 259h1M262 260h2M265 260h2M268 260h7M276 260h4M281 260h3M288 260h1M290 260h4M295 260h38M334 260h2M337 260h1M253 261h1M263 261h3M267 261h1M270 261h6M281 261h1M283 261h2M288 261h1M290 261h1M294 261h6M301 261h15M317 261h14M335 261h1M262 262h1M268 262h2M272 262h1M274 262h1M278 262h1M281 262h2M294 262h3M298 262h4M303 262h9M313 262h3M317 262h11M330 262h3M334 262h3M265 263h2M275 263h2M286 263h1M295 263h1M301 263h1M303 263h2M306 263h5M312 263h1M315 263h1M318 263h1M320 263h5M326 263h1M329 263h1M248 264h1M261 264h2M267 264h2M297 264h1M303 264h1M306 264h2M309 264h4M314 264h1M316 264h1M319 264h2M324 264h1M327 264h2M334 264h1M281 265h1M295 265h1M298 265h1M302 265h1M311 265h1M313 265h2M316 265h1M320 265h1M333 265h1M298 266h1M315 266h1M319 266h1M316 267h1M258 268h1M257 270h1M260 271h1M279 271h1M320 274h1" stroke="#000" stroke-width="1" fill="none" transform="translate(0,0.5)" filter="url(#sf)"/>
<rect x="246.7" y="164.6" width="115.5" height="115.3" fill="none" stroke="#2a2a2a" stroke-width="1.15"/>
<line x1="283.5" y1="164.6" x2="283.5" y2="279.9" stroke="#4a4a4a" stroke-width="1"/>
<line x1="246.7" y1="237.7" x2="362.2" y2="237.7" stroke="#4a4a4a" stroke-width="1"/>
<path d="M245.2 274.4H246.7M252.5 279.9V281.4M245.2 269.6H246.7M257.3 279.9V281.4M245.2 266.3H246.7M260.8 279.9V281.4M245.2 263.7H246.7M263.4 279.9V281.4M245.2 261.6H246.7M265.6 279.9V281.4M245.2 259.8H246.7M267.4 279.9V281.4M245.2 258.2H246.7M269.0 279.9V281.4M245.2 256.8H246.7M270.4 279.9V281.4M245.2 247.5H246.7M280.0 279.9V281.4M245.2 242.8H246.7M284.8 279.9V281.4M245.2 239.4H246.7M288.3 279.9V281.4M245.2 236.8H246.7M290.9 279.9V281.4M245.2 234.7H246.7M293.1 279.9V281.4M245.2 232.9H246.7M294.9 279.9V281.4M245.2 231.4H246.7M296.5 279.9V281.4M245.2 230.0H246.7M297.9 279.9V281.4M245.2 220.7H246.7M307.5 279.9V281.4M245.2 215.9H246.7M312.3 279.9V281.4M245.2 212.6H246.7M315.8 279.9V281.4M245.2 210.0H246.7M318.4 279.9V281.4M245.2 207.9H246.7M320.6 279.9V281.4M245.2 206.1H246.7M322.4 279.9V281.4M245.2 204.5H246.7M324.0 279.9V281.4M245.2 203.1H246.7M325.4 279.9V281.4M245.2 193.8H246.7M335.0 279.9V281.4M245.2 189.1H246.7M339.8 279.9V281.4M245.2 185.7H246.7M343.3 279.9V281.4M245.2 183.1H246.7M345.9 279.9V281.4M245.2 181.0H246.7M348.1 279.9V281.4M245.2 179.2H246.7M349.9 279.9V281.4M245.2 177.7H246.7M351.5 279.9V281.4M245.2 176.3H246.7M352.9 279.9V281.4M245.2 167.0H246.7" stroke="#333" stroke-width="0.7" fill="none"/>
<path d="M244.3 255.6H246.7M271.7 279.9V282.3M244.3 228.7H246.7M299.2 279.9V282.3M244.3 201.9H246.7M326.7 279.9V282.3M244.3 175.0H246.7M354.2 279.9V282.3M244.3 268.3H246.7M258.3 279.9V282.3" stroke="#111" stroke-width="1.1" fill="none"/>
<text transform="translate(252.62 177.9) scale(1.0559 1)" font-size="16.1">0.2</text>
<text transform="translate(249.12 197.5) scale(0.9400 1)" font-size="16.1">±0.1</text>
<text transform="translate(328.53 177.9) scale(1.0478 1)" font-size="16.1">0.5</text>
<text transform="translate(324.24 197.5) scale(0.9617 1)" font-size="16.1">±0.1</text>
<text transform="translate(292.95 274.8) scale(1.0297 1)" font-size="16.1">95.0±0.5</text>
<path d="M449 199h1M431 203h1M432 206h1M436 206h1M431 208h1M435 208h1M442 208h1M455 208h1M397 209h1M401 209h1M404 209h1M396 210h1M399 210h1M402 210h1M405 210h2M449 210h1M458 210h1M393 211h1M395 211h1M398 211h3M402 211h1M404 211h1M406 211h1M411 211h1M423 211h1M437 211h1M447 211h1M454 211h1M463 211h1M396 212h2M399 212h7M407 212h4M412 212h1M415 212h1M429 212h1M431 212h1M435 212h1M437 212h2M447 212h2M451 212h3M455 212h3M459 212h3M464 212h1M392 213h1M394 213h1M397 213h12M410 213h1M412 213h2M430 213h1M436 213h1M445 213h2M448 213h14M466 213h1M388 214h1M390 214h1M392 214h14M407 214h9M420 214h1M424 214h2M433 214h5M439 214h2M444 214h1M446 214h15M464 214h2M467 214h1M390 215h26M422 215h1M424 215h1M426 215h1M429 215h1M432 215h1M435 215h2M440 215h1M442 215h1M444 215h21M466 215h1M469 215h1M388 216h28M419 216h1M423 216h2M428 216h4M436 216h1M438 216h1M442 216h3M446 216h22M469 216h1M388 217h1M390 217h26M419 217h1M425 217h1M431 217h2M435 217h1M437 217h3M443 217h24M468 217h1M388 218h27M416 218h1M419 218h1M424 218h3M428 218h8M437 218h2M440 218h2M443 218h24M468 218h2M388 219h31M420 219h1M422 219h1M427 219h1M429 219h2M432 219h2M437 219h4M443 219h25M387 220h1M389 220h1M391 220h25M419 220h2M422 220h2M425 220h10M436 220h1M441 220h28M388 221h1M390 221h30M421 221h1M424 221h8M434 221h6M442 221h29M387 222h1M389 222h31M421 222h1M423 222h4M428 222h12M442 222h28M389 223h30M420 223h7M428 223h2M431 223h7M439 223h32M386 224h33M420 224h1M422 224h10M433 224h4M438 224h32M471 224h1M387 225h32M421 225h1M424 225h4M429 225h6M436 225h33M471 225h1M388 226h31M422 226h1M425 226h10M436 226h34M471 226h1M387 227h33M421 227h5M427 227h11M439 227h31M471 227h1M388 228h32M421 228h2M424 228h5M430 228h9M440 228h29M470 228h1M387 229h1M389 229h28M418 229h2M421 229h13M435 229h35M387 230h38M426 230h6M433 230h5M439 230h1M441 230h29M471 230h1M383 231h1M387 231h37M425 231h5M431 231h2M435 231h33M469 231h1M471 231h1M387 232h1M389 232h27M417 232h11M429 232h2M433 232h2M436 232h3M440 232h1M442 232h26M469 232h1M387 233h2M390 233h44M436 233h2M440 233h27M468 233h2M471 233h1M475 233h1M389 234h27M417 234h1M420 234h8M429 234h8M438 234h32M390 235h29M421 235h9M431 235h2M434 235h4M439 235h1M442 235h25M469 235h1M386 236h1M389 236h1M391 236h25M418 236h2M421 236h1M424 236h1M426 236h10M437 236h3M441 236h5M447 236h21M469 236h1M388 237h1M390 237h1M392 237h24M417 237h1M419 237h2M423 237h1M428 237h15M444 237h23M388 238h29M420 238h3M425 238h1M427 238h1M430 238h3M434 238h4M440 238h3M444 238h26M387 239h1M389 239h27M417 239h3M421 239h1M423 239h3M427 239h3M431 239h5M437 239h2M440 239h3M444 239h3M448 239h22M471 239h1M387 240h30M418 240h2M421 240h1M423 240h48M388 241h31M420 241h11M432 241h42M386 242h43M430 242h43M385 243h3M389 243h81M471 243h2M474 243h1M481 243h1M387 244h86M474 244h1M384 245h2M387 245h85M473 245h1M385 246h89M386 247h85M472 247h3M386 248h1M388 248h86M384 249h1M386 249h87M474 249h1M386 250h86M473 250h1M385 251h1M387 251h88M385 252h88M384 253h2M387 253h85M475 253h1M491 253h1M386 254h1M388 254h83M473 254h1M386 255h86M386 256h84M471 256h1M385 257h2M388 257h32M421 257h24M446 257h20M467 257h1M386 258h29M416 258h1M419 258h4M424 258h4M429 258h9M439 258h1M441 258h1M443 258h1M445 258h4M450 258h9M460 258h6M386 259h1M388 259h27M418 259h1M421 259h1M424 259h6M431 259h12M445 259h2M448 259h1M450 259h11M462 259h3M466 259h1M390 260h24M421 260h1M424 260h1M426 260h1M428 260h1M435 260h1M444 260h1M446 260h2M449 260h1M451 260h2M454 260h2M457 260h1M459 260h1M463 260h2M466 260h1M472 260h1M390 261h2M393 261h9M403 261h1M405 261h6M412 261h1M425 261h1M437 261h1M439 261h1M452 261h2M456 261h4M461 261h2M482 261h1M390 262h1M392 262h1M395 262h8M404 262h3M408 262h2M411 262h1M419 262h1M436 262h1M450 262h1M457 262h1M466 262h1M388 263h1M393 263h1M399 263h1M401 263h1M404 263h1M412 263h1M425 263h1M392 264h1M395 264h1M400 264h1M402 264h2M398 265h1M427 271h1" stroke="#000" stroke-width="1" fill="none" transform="translate(0,0.5)" filter="url(#sf)"/>
<rect x="380.1" y="164.6" width="116.0" height="115.3" fill="none" stroke="#2a2a2a" stroke-width="1.15"/>
<line x1="416.6" y1="164.6" x2="416.6" y2="279.9" stroke="#4a4a4a" stroke-width="1"/>
<line x1="380.1" y1="237.1" x2="496.1" y2="237.1" stroke="#4a4a4a" stroke-width="1"/>
<path d="M378.6 274.4H380.1M385.9 279.9V281.4M378.6 269.6H380.1M390.7 279.9V281.4M378.6 266.3H380.1M394.2 279.9V281.4M378.6 263.7H380.1M396.8 279.9V281.4M378.6 261.6H380.1M399.0 279.9V281.4M378.6 259.8H380.1M400.8 279.9V281.4M378.6 258.2H380.1M402.4 279.9V281.4M378.6 256.8H380.1M403.8 279.9V281.4M378.6 247.5H380.1M413.4 279.9V281.4M378.6 242.8H380.1M418.2 279.9V281.4M378.6 239.4H380.1M421.7 279.9V281.4M378.6 236.8H380.1M424.3 279.9V281.4M378.6 234.7H380.1M426.5 279.9V281.4M378.6 232.9H380.1M428.3 279.9V281.4M378.6 231.4H380.1M429.9 279.9V281.4M378.6 230.0H380.1M431.3 279.9V281.4M378.6 220.7H380.1M440.9 279.9V281.4M378.6 215.9H380.1M445.7 279.9V281.4M378.6 212.6H380.1M449.2 279.9V281.4M378.6 210.0H380.1M451.8 279.9V281.4M378.6 207.9H380.1M454.0 279.9V281.4M378.6 206.1H380.1M455.8 279.9V281.4M378.6 204.5H380.1M457.4 279.9V281.4M378.6 203.1H380.1M458.8 279.9V281.4M378.6 193.8H380.1M468.4 279.9V281.4M378.6 189.1H380.1M473.2 279.9V281.4M378.6 185.7H380.1M476.7 279.9V281.4M378.6 183.1H380.1M479.3 279.9V281.4M378.6 181.0H380.1M481.5 279.9V281.4M378.6 179.2H380.1M483.3 279.9V281.4M378.6 177.7H380.1M484.9 279.9V281.4M378.6 176.3H380.1M486.3 279.9V281.4M378.6 167.0H380.1" stroke="#333" stroke-width="0.7" fill="none"/>
<path d="M377.7 255.6H380.1M405.1 279.9V282.3M377.7 228.7H380.1M432.6 279.9V282.3M377.7 201.9H380.1M460.1 279.9V282.3M377.7 175.0H380.1M487.6 279.9V282.3M377.7 268.3H380.1M391.7 279.9V282.3" stroke="#111" stroke-width="1.1" fill="none"/>
<text transform="translate(383.3 177.9) scale(1.0600 1)" font-size="16.1">26.2</text>
<text transform="translate(383.49 197.5) scale(1.0591 1)" font-size="16.1">±6.9</text>
<text transform="translate(458.96 177.9) scale(1.0250 1)" font-size="16.1">15.5</text>
<text transform="translate(459.21 197.5) scale(1.0224 1)" font-size="16.1">±4.6</text>
<text transform="translate(420.55 274.8) scale(1.0157 1)" font-size="16.1">34.9±12.5</text>
<text transform="translate(2.35 24) scale(0.9531 1)" font-size="31">A</text>
<text transform="translate(159.84 13.85) scale(0.9710 1)" font-size="16" font-weight="bold">Th0</text>
<text transform="translate(287.91 13.85) scale(0.9400 1)" font-size="16" font-weight="bold">Th1</text>
<text transform="translate(418.64 13.85) scale(0.9814 1)" font-size="16" font-weight="bold">Th17</text>
<text transform="translate(21.93 86.3) scale(1.0291 1)" font-size="16" font-weight="bold">Neutral</text>
<text transform="translate(35.6 214.3) scale(0.9434 1)" font-size="16" font-weight="bold">TH1</text>
<text transform="translate(12.35 233.3) scale(1.0200 1)" font-size="16" font-weight="bold">Condition</text>
<path d="M76.8 275V313.8H117" stroke="#000" stroke-width="2" fill="none"/>
<path d="M76.8 267.5L72.3 276.6H81.3ZM124.4 313.8L115.8 309.4V318.2Z" fill="#000"/>
<text transform="translate(70.9 295.3) rotate(-90)" font-size="17.9" text-anchor="middle">IL-17</text>
<text x="79" y="341.6" font-size="17.3">IFN-<tspan font-family="'Liberation Serif', 'DejaVu Serif', serif" font-size="16">γ</tspan></text>
<text x="-0.01" y="374.6" font-size="30.6">B</text>
<text transform="translate(158.64 378.2) scale(1.0181 1)" font-size="16" font-weight="bold">Th0</text>
<text transform="translate(285.76 379.6) scale(0.9400 1)" font-size="16" font-weight="bold">Th1</text>
<text transform="translate(414.44 379.6) scale(0.9841 1)" font-size="16" font-weight="bold">Th17</text>
<line x1="142.0" y1="497.6" x2="142.0" y2="487.6" stroke="#000" stroke-width="1.3"/>
<line x1="132.5" y1="487.6" x2="151.5" y2="487.6" stroke="#000" stroke-width="1.5"/>
<line x1="142.0" y1="517.6" x2="142.0" y2="519.4" stroke="#000" stroke-width="1.3"/>
<line x1="132.5" y1="519.4" x2="151.5" y2="519.4" stroke="#000" stroke-width="1.5"/>
<rect x="123.65" y="514.6" width="36.7" height="3.05" fill="#fff" stroke="#000" stroke-width="1.5"/>
<rect x="123.3" y="497.6" width="37.4" height="17.5" fill="#000"/>
<line x1="196.9" y1="457" x2="196.9" y2="425.3" stroke="#000" stroke-width="1.3"/>
<line x1="187.4" y1="425.3" x2="206.4" y2="425.3" stroke="#000" stroke-width="1.5"/>
<line x1="196.9" y1="517.6" x2="196.9" y2="519.4" stroke="#000" stroke-width="1.3"/>
<line x1="187.4" y1="519.4" x2="206.4" y2="519.4" stroke="#000" stroke-width="1.5"/>
<rect x="178.65" y="514.6" width="36.5" height="3.05" fill="#fff" stroke="#000" stroke-width="1.5"/>
<rect x="178.3" y="457" width="37.2" height="58.1" fill="#000"/>
<rect x="114.6" y="391" width="109.9" height="164.2" fill="none" stroke="#000" stroke-width="1.5"/>
<line x1="111.1" y1="514.6" x2="224.5" y2="514.6" stroke="#000" stroke-width="1.6"/>
<line x1="111.1" y1="391" x2="114.6" y2="391" stroke="#000" stroke-width="1.4"/>
<text x="90.28" y="396.5" font-size="14.6">75</text>
<line x1="111.1" y1="432.3" x2="114.6" y2="432.3" stroke="#000" stroke-width="1.4"/>
<text x="90.28" y="437.3" font-size="14.6">50</text>
<line x1="111.1" y1="473.2" x2="114.6" y2="473.2" stroke="#000" stroke-width="1.4"/>
<text x="90.28" y="481.7" font-size="14.6">25</text>
<line x1="111.1" y1="514.6" x2="114.6" y2="514.6" stroke="#000" stroke-width="1.4"/>
<text x="98.38" y="519.8" font-size="14.6">0</text>
<line x1="111.1" y1="555.2" x2="114.6" y2="555.2" stroke="#000" stroke-width="1.4"/>
<text x="90.28" y="562.5" font-size="14.6">25</text>
<text transform="translate(120.83 579.6) scale(1.0306 1)" font-size="14.2">Neutral</text>
<text transform="translate(187.84 579.6) scale(0.9400 1)" font-size="14.2">Th1</text>
<line x1="273.25" y1="496.6" x2="273.25" y2="491" stroke="#000" stroke-width="1.3"/>
<line x1="263.75" y1="491" x2="282.75" y2="491" stroke="#000" stroke-width="1.5"/>
<rect x="254.85" y="517.5" width="36.8" height="1.85" fill="#fff" stroke="#000" stroke-width="1.5"/>
<rect x="254.5" y="496.6" width="37.5" height="21.4" fill="#000"/>
<line x1="328.35" y1="453.8" x2="328.35" y2="447" stroke="#000" stroke-width="1.3"/>
<line x1="318.85" y1="447" x2="337.85" y2="447" stroke="#000" stroke-width="1.5"/>
<line x1="328.35" y1="521.3" x2="328.35" y2="523" stroke="#000" stroke-width="1.3"/>
<line x1="318.85" y1="523" x2="337.85" y2="523" stroke="#000" stroke-width="1.5"/>
<rect x="310.35" y="517.5" width="36.0" height="3.85" fill="#fff" stroke="#000" stroke-width="1.5"/>
<rect x="310" y="453.8" width="36.7" height="64.2" fill="#000"/>
<rect x="246.1" y="391" width="109.8" height="168" fill="none" stroke="#000" stroke-width="1.5"/>
<line x1="242.6" y1="517.5" x2="355.9" y2="517.5" stroke="#000" stroke-width="1.6"/>
<line x1="242.6" y1="391" x2="246.1" y2="391" stroke="#000" stroke-width="1.4"/>
<line x1="242.6" y1="433" x2="246.1" y2="433" stroke="#000" stroke-width="1.4"/>
<line x1="242.6" y1="475" x2="246.1" y2="475" stroke="#000" stroke-width="1.4"/>
<line x1="242.6" y1="517.5" x2="246.1" y2="517.5" stroke="#000" stroke-width="1.4"/>
<line x1="242.6" y1="559" x2="246.1" y2="559" stroke="#000" stroke-width="1.4"/>
<text transform="translate(259.65 579.6) scale(1.0123 1)" font-size="14.2">Neutral</text>
<text transform="translate(320.84 579.6) scale(0.9400 1)" font-size="14.2">Th1</text>
<line x1="406.0" y1="512.5" x2="406.0" y2="508.5" stroke="#000" stroke-width="1.3"/>
<line x1="396.5" y1="508.5" x2="415.5" y2="508.5" stroke="#000" stroke-width="1.5"/>
<line x1="406.0" y1="521.8" x2="406.0" y2="523.2" stroke="#000" stroke-width="1.3"/>
<line x1="396.5" y1="523.2" x2="415.5" y2="523.2" stroke="#000" stroke-width="1.5"/>
<rect x="387.85" y="517.5" width="36.3" height="4.35" fill="#fff" stroke="#000" stroke-width="1.5"/>
<rect x="387.5" y="512.5" width="37.0" height="5.5" fill="#000"/>
<line x1="461.05" y1="497" x2="461.05" y2="483.7" stroke="#000" stroke-width="1.3"/>
<line x1="451.55" y1="483.7" x2="470.55" y2="483.7" stroke="#000" stroke-width="1.5"/>
<line x1="461.05" y1="522.5" x2="461.05" y2="526.3" stroke="#000" stroke-width="1.3"/>
<line x1="451.55" y1="526.3" x2="470.55" y2="526.3" stroke="#000" stroke-width="1.5"/>
<rect x="442.85" y="517.5" width="36.4" height="5.05" fill="#fff" stroke="#000" stroke-width="1.5"/>
<rect x="442.5" y="497" width="37.1" height="21.0" fill="#000"/>
<rect x="378.7" y="391" width="109.7" height="168" fill="none" stroke="#000" stroke-width="1.5"/>
<line x1="375.2" y1="517.5" x2="488.4" y2="517.5" stroke="#000" stroke-width="1.6"/>
<line x1="375.2" y1="391" x2="378.7" y2="391" stroke="#000" stroke-width="1.4"/>
<line x1="375.2" y1="433" x2="378.7" y2="433" stroke="#000" stroke-width="1.4"/>
<line x1="375.2" y1="475" x2="378.7" y2="475" stroke="#000" stroke-width="1.4"/>
<line x1="375.2" y1="517.5" x2="378.7" y2="517.5" stroke="#000" stroke-width="1.4"/>
<line x1="375.2" y1="559" x2="378.7" y2="559" stroke="#000" stroke-width="1.4"/>
<text transform="translate(392.14 579.6) scale(1.0237 1)" font-size="14.2">Neutral</text>
<text transform="translate(454.34 579.6) scale(0.9400 1)" font-size="14.2">Th1</text>
<rect x="382" y="397.6" width="21" height="11.6" fill="#000"/>
<rect x="382.9" y="422.1" width="19.2" height="9.2" fill="#fff" stroke="#000" stroke-width="1.8"/>
<text x="404.64" y="408.2" font-size="16.5">H3K4me3</text>
<text x="404.41" y="431.6" font-size="16.5">H3K27me3</text>
<text x="196.9" y="425.6" font-size="21.5" text-anchor="middle" font-weight="bold" letter-spacing="1.6">***</text>
<text x="329.6" y="447.3" font-size="21.5" text-anchor="middle" font-weight="bold" letter-spacing="1.6">***</text>
<line x1="142.0" y1="656.4" x2="142.0" y2="654" stroke="#000" stroke-width="1.3"/>
<line x1="132.5" y1="654" x2="151.5" y2="654" stroke="#000" stroke-width="1.5"/>
<line x1="142.0" y1="687.5" x2="142.0" y2="696.5" stroke="#000" stroke-width="1.3"/>
<line x1="132.5" y1="696.5" x2="151.5" y2="696.5" stroke="#000" stroke-width="1.5"/>
<rect x="123.65" y="658.8" width="36.7" height="28.75" fill="#fff" stroke="#000" stroke-width="1.5"/>
<rect x="123.3" y="656.4" width="37.4" height="2.9" fill="#000"/>
<line x1="196.9" y1="707.6" x2="196.9" y2="754.2" stroke="#000" stroke-width="1.3"/>
<line x1="187.4" y1="754.2" x2="206.4" y2="754.2" stroke="#000" stroke-width="1.5"/>
<rect x="178.65" y="658.8" width="36.5" height="48.85" fill="#fff" stroke="#000" stroke-width="1.5"/>
<rect x="114.6" y="593.3" width="109.9" height="164.3" fill="none" stroke="#000" stroke-width="1.5"/>
<line x1="111.1" y1="658.8" x2="224.5" y2="658.8" stroke="#000" stroke-width="1.6"/>
<line x1="111.1" y1="593.3" x2="114.6" y2="593.3" stroke="#000" stroke-width="1.4"/>
<text x="90.28" y="598.5" font-size="14.6">30</text>
<line x1="111.1" y1="625.8" x2="114.6" y2="625.8" stroke="#000" stroke-width="1.4"/>
<text x="90.28" y="631.6" font-size="14.6">15</text>
<line x1="111.1" y1="658.8" x2="114.6" y2="658.8" stroke="#000" stroke-width="1.4"/>
<text x="98.38" y="665.0" font-size="14.6">0</text>
<line x1="111.1" y1="692" x2="114.6" y2="692" stroke="#000" stroke-width="1.4"/>
<text x="90.28" y="698" font-size="14.6">15</text>
<line x1="111.1" y1="725" x2="114.6" y2="725" stroke="#000" stroke-width="1.4"/>
<text x="90.28" y="731.6" font-size="14.6">30</text>
<line x1="111.1" y1="757.6" x2="114.6" y2="757.6" stroke="#000" stroke-width="1.4"/>
<text x="90.28" y="766.2" font-size="14.6">45</text>
<text transform="translate(116.83 779.8) scale(1.0306 1)" font-size="14.2">Neutral</text>
<text transform="translate(184.67 779.8) scale(0.9418 1)" font-size="14.2">Th1</text>
<line x1="273.05" y1="684" x2="273.05" y2="697" stroke="#000" stroke-width="1.3"/>
<line x1="263.55" y1="697" x2="282.55" y2="697" stroke="#000" stroke-width="1.5"/>
<rect x="254.85" y="660" width="36.4" height="24.05" fill="#fff" stroke="#000" stroke-width="1.5"/>
<rect x="254.5" y="658.2" width="37.1" height="2.3" fill="#000"/>
<line x1="328.3" y1="701.5" x2="328.3" y2="723.2" stroke="#000" stroke-width="1.3"/>
<line x1="318.8" y1="723.2" x2="337.8" y2="723.2" stroke="#000" stroke-width="1.5"/>
<rect x="310.35" y="660" width="35.9" height="41.55" fill="#fff" stroke="#000" stroke-width="1.5"/>
<rect x="246.1" y="593.3" width="109.8" height="168.5" fill="none" stroke="#000" stroke-width="1.5"/>
<line x1="242.6" y1="660" x2="355.9" y2="660" stroke="#000" stroke-width="1.6"/>
<line x1="242.6" y1="593.3" x2="246.1" y2="593.3" stroke="#000" stroke-width="1.4"/>
<line x1="242.6" y1="627" x2="246.1" y2="627" stroke="#000" stroke-width="1.4"/>
<line x1="242.6" y1="660" x2="246.1" y2="660" stroke="#000" stroke-width="1.4"/>
<line x1="242.6" y1="694.2" x2="246.1" y2="694.2" stroke="#000" stroke-width="1.4"/>
<line x1="242.6" y1="728.2" x2="246.1" y2="728.2" stroke="#000" stroke-width="1.4"/>
<line x1="242.6" y1="761.8" x2="246.1" y2="761.8" stroke="#000" stroke-width="1.4"/>
<text transform="translate(255.83 779.8) scale(1.0306 1)" font-size="14.2">Neutral</text>
<text transform="translate(317.36 779.8) scale(0.9547 1)" font-size="14.2">Th1</text>
<line x1="406.0" y1="647.5" x2="406.0" y2="644.5" stroke="#000" stroke-width="1.3"/>
<line x1="396.5" y1="644.5" x2="415.5" y2="644.5" stroke="#000" stroke-width="1.5"/>
<line x1="406.0" y1="667.5" x2="406.0" y2="671.8" stroke="#000" stroke-width="1.3"/>
<line x1="396.5" y1="671.8" x2="415.5" y2="671.8" stroke="#000" stroke-width="1.5"/>
<rect x="387.85" y="660.2" width="36.3" height="7.35" fill="#fff" stroke="#000" stroke-width="1.5"/>
<rect x="387.5" y="647.5" width="37.0" height="13.2" fill="#000"/>
<line x1="461.05" y1="649" x2="461.05" y2="641.8" stroke="#000" stroke-width="1.3"/>
<line x1="451.55" y1="641.8" x2="470.55" y2="641.8" stroke="#000" stroke-width="1.5"/>
<line x1="461.05" y1="675.8" x2="461.05" y2="682.8" stroke="#000" stroke-width="1.3"/>
<line x1="451.55" y1="682.8" x2="470.55" y2="682.8" stroke="#000" stroke-width="1.5"/>
<rect x="442.85" y="660.2" width="36.4" height="15.65" fill="#fff" stroke="#000" stroke-width="1.5"/>
<rect x="442.5" y="649" width="37.1" height="11.7" fill="#000"/>
<rect x="378.7" y="593.3" width="109.7" height="168.5" fill="none" stroke="#000" stroke-width="1.5"/>
<line x1="375.2" y1="660.2" x2="488.4" y2="660.2" stroke="#000" stroke-width="1.6"/>
<line x1="375.2" y1="593.3" x2="378.7" y2="593.3" stroke="#000" stroke-width="1.4"/>
<line x1="375.2" y1="627" x2="378.7" y2="627" stroke="#000" stroke-width="1.4"/>
<line x1="375.2" y1="660.2" x2="378.7" y2="660.2" stroke="#000" stroke-width="1.4"/>
<line x1="375.2" y1="694.2" x2="378.7" y2="694.2" stroke="#000" stroke-width="1.4"/>
<line x1="375.2" y1="728.2" x2="378.7" y2="728.2" stroke="#000" stroke-width="1.4"/>
<line x1="375.2" y1="761.8" x2="378.7" y2="761.8" stroke="#000" stroke-width="1.4"/>
<text transform="translate(388.83 779.8) scale(1.0306 1)" font-size="14.2">Neutral</text>
<text transform="translate(450.17 779.8) scale(0.9418 1)" font-size="14.2">Th1</text>
<text x="406.7" y="636.1" font-size="21.5" text-anchor="middle" font-weight="bold" letter-spacing="0.9">**</text>
<text x="462" y="636.1" font-size="21.5" text-anchor="middle" font-weight="bold">*</text>
<line x1="398.8" y1="689.3" x2="467.5" y2="689.3" stroke="#000" stroke-width="2"/>
<text x="434.8" y="713.2" font-size="21.5" text-anchor="middle" font-weight="bold">*</text>
<line x1="111.3" y1="792.7" x2="493.3" y2="792.7" stroke="#000" stroke-width="2"/>
<text transform="translate(264.78 808.8) scale(1.0124 1)" font-size="14.3">Condition</text>
<text transform="translate(58.4 478.3) rotate(-90)" font-size="15.8" text-anchor="middle" font-weight="bold" font-style="italic">IFNG</text>
<text transform="translate(77.3 476.8) rotate(-90)" font-size="16.1" text-anchor="middle" font-weight="bold">Relative Enrichment</text>
<text transform="translate(58.4 682.8) rotate(-90)" font-size="15.8" text-anchor="middle" font-weight="bold" font-style="italic">IL17A</text>
<text transform="translate(77.3 681.2) rotate(-90)" font-size="16.1" text-anchor="middle" font-weight="bold">Relative Enrichment</text>
<text x="0.47" y="847.6" font-size="31.6">C</text>
<text x="86.4" y="854.4" font-size="20.3" font-weight="bold" font-style="italic">IFNG</text>
<text x="276.3" y="850" font-size="14" text-anchor="middle">CpG #</text>
<line x1="184.2" y1="858.7" x2="370.5" y2="858.7" stroke="#000" stroke-width="2"/>
<text x="203.7" y="875" font-size="13" text-anchor="middle">1</text>
<text x="243.2" y="875" font-size="13" text-anchor="middle">2</text>
<text x="280" y="875" font-size="13" text-anchor="middle">3</text>
<text x="317.5" y="875" font-size="13" text-anchor="middle">4</text>
<text x="352.5" y="875" font-size="13" text-anchor="middle">5</text>
<rect x="184.2" y="882.6" width="183.8" height="182.6" fill="#1a1a1a"/>
<rect x="185.2" y="883.5" width="34.71" height="34.57" fill="url(#gM)"/>
<rect x="222.01" y="883.5" width="34.66" height="34.57" fill="#ffffff"/>
<rect x="258.77" y="883.5" width="34.66" height="34.57" fill="url(#gM)"/>
<rect x="295.53" y="883.5" width="34.66" height="34.57" fill="url(#gM)"/>
<rect x="332.29" y="883.5" width="34.71" height="34.57" fill="url(#gM)"/>
<rect x="185.2" y="920.17" width="34.71" height="34.42" fill="#ffffff"/>
<rect x="222.01" y="920.17" width="34.66" height="34.42" fill="#ffffff"/>
<rect x="258.77" y="920.17" width="34.66" height="34.42" fill="#ffffff"/>
<rect x="295.53" y="920.17" width="34.66" height="34.42" fill="#ffffff"/>
<rect x="332.29" y="920.17" width="34.71" height="34.42" fill="#ffffff"/>
<rect x="185.2" y="956.69" width="34.71" height="34.42" fill="#ffffff"/>
<rect x="222.01" y="956.69" width="34.66" height="34.42" fill="#ffffff"/>
<rect x="258.77" y="956.69" width="34.66" height="34.42" fill="#ffffff"/>
<rect x="295.53" y="956.69" width="34.66" height="34.42" fill="#ffffff"/>
<rect x="332.29" y="956.69" width="34.71" height="34.42" fill="#ffffff"/>
<rect x="185.2" y="993.21" width="34.71" height="34.42" fill="url(#gD)"/>
<rect x="222.01" y="993.21" width="34.66" height="34.42" fill="url(#gM)"/>
<rect x="258.77" y="993.21" width="34.66" height="34.42" fill="url(#gD)"/>
<rect x="185.2" y="1029.73" width="34.71" height="34.47" fill="url(#gD)"/>
<rect x="222.01" y="1029.73" width="34.66" height="34.47" fill="url(#gM)"/>
<rect x="258.77" y="1029.73" width="34.66" height="34.47" fill="url(#gD)"/>
<rect x="295.53" y="1029.73" width="34.66" height="34.47" fill="url(#gD)"/>
<rect x="332.29" y="1029.73" width="34.71" height="34.47" fill="url(#gD)"/>
<text transform="translate(63.65 905.6) scale(0.9674 1)" font-size="16" font-weight="bold">Th0</text>
<text x="118.2" y="904.8" font-size="16.2">Neutral</text>
<text transform="translate(62.45 958.5) scale(0.9555 1)" font-size="16" font-weight="bold">Th1</text>
<line x1="100.9" y1="926.6" x2="100.9" y2="981.9" stroke="#000" stroke-width="2"/>
<text x="118.2" y="940.9" font-size="16.2">Neutral</text>
<text x="144.2" y="966.9" font-size="16.2" text-anchor="middle">TH1</text>
<text x="144.2" y="986.8" font-size="16.2" text-anchor="middle">Condition</text>
<text x="58.41" y="1031.5" font-size="16.6" font-weight="bold">Th17</text>
<line x1="100.9" y1="1005.0" x2="100.9" y2="1060.6" stroke="#000" stroke-width="2"/>
<text x="118.2" y="1014.4" font-size="16.2">Neutral</text>
<text x="144.2" y="1044.5" font-size="16.2" text-anchor="middle">TH1</text>
<text x="144.2" y="1064.0" font-size="16.2" text-anchor="middle">Condition</text>
<rect x="414.1" y="895.9" width="15.2" height="15.2" fill="#1a1a1a" stroke="#111" stroke-width="1.9"/>
<rect x="414.1" y="920.4" width="15.2" height="15.2" fill="#444444" stroke="#111" stroke-width="1.9"/>
<rect x="414.1" y="944.9" width="15.2" height="15.2" fill="#999999" stroke="#111" stroke-width="1.9"/>
<rect x="414.1" y="969.4" width="15.2" height="15.2" fill="#c2c2c2" stroke="#111" stroke-width="1.9"/>
<rect x="414.1" y="993.9" width="15.2" height="15.2" fill="#ffffff" stroke="#111" stroke-width="1.9"/>
<text x="437" y="906.0" font-size="14.15">80-100%</text>
<text x="437" y="932.1" font-size="14.15">60-79%</text>
<text x="437" y="958.0" font-size="14.15">40-59%</text>
<text x="437" y="982.2" font-size="14.15">20-39%</text>
<text x="437" y="1006.0" font-size="14.15">0-19%</text>
<text x="86.4" y="1119" font-size="20.3" font-weight="bold" font-style="italic">IL17A</text>
<text x="349.5" y="1115" font-size="14" text-anchor="middle">CpG #</text>
<line x1="184.2" y1="1123.7" x2="517.5" y2="1123.7" stroke="#000" stroke-width="2"/>
<text x="201.3" y="1140.8" font-size="13" text-anchor="middle">1</text>
<text x="241" y="1140.8" font-size="13" text-anchor="middle">2</text>
<text x="278" y="1140.8" font-size="13" text-anchor="middle">3</text>
<text x="315.2" y="1140.8" font-size="13" text-anchor="middle">4</text>
<text x="350.2" y="1140.8" font-size="13" text-anchor="middle">5</text>
<text x="387" y="1140.8" font-size="13" text-anchor="middle">6</text>
<text x="421.8" y="1140.8" font-size="13" text-anchor="middle">7</text>
<text x="460.5" y="1140.8" font-size="13" text-anchor="middle">8</text>
<text x="497.5" y="1140.8" font-size="13" text-anchor="middle">9</text>
<rect x="184" y="1148.2" width="331" height="182.4" fill="#1a1a1a"/>
<rect x="368.94" y="1149.1" width="34.68" height="34.53" fill="url(#gM)"/>
<rect x="405.72" y="1149.1" width="34.68" height="34.53" fill="url(#gD)"/>
<rect x="442.49" y="1185.73" width="34.68" height="34.38" fill="url(#gD)"/>
<rect x="479.27" y="1185.73" width="34.73" height="34.38" fill="url(#gM)"/>
<rect x="368.94" y="1222.21" width="34.68" height="34.38" fill="url(#gL)"/>
<rect x="442.49" y="1222.21" width="34.68" height="34.38" fill="url(#gM)"/>
<rect x="479.27" y="1222.21" width="34.73" height="34.38" fill="url(#gM)"/>
<rect x="185.0" y="1258.69" width="34.73" height="34.38" fill="url(#gD)"/>
<rect x="221.83" y="1258.69" width="34.68" height="34.38" fill="url(#gD)"/>
<rect x="258.61" y="1258.69" width="34.68" height="34.38" fill="url(#gD)"/>
<rect x="295.38" y="1258.69" width="34.68" height="34.38" fill="url(#gM)"/>
<rect x="332.16" y="1258.69" width="34.68" height="34.38" fill="url(#gL)"/>
<rect x="368.94" y="1258.69" width="34.68" height="34.38" fill="#ffffff"/>
<rect x="405.72" y="1258.69" width="34.68" height="34.38" fill="#ffffff"/>
<rect x="442.49" y="1258.69" width="34.68" height="34.38" fill="#ffffff"/>
<rect x="479.27" y="1258.69" width="34.73" height="34.38" fill="#ffffff"/>
<rect x="221.83" y="1295.17" width="34.68" height="34.43" fill="url(#gD)"/>
<rect x="258.61" y="1295.17" width="34.68" height="34.43" fill="url(#gD)"/>
<rect x="295.38" y="1295.17" width="34.68" height="34.43" fill="url(#gD)"/>
<rect x="332.16" y="1295.17" width="34.68" height="34.43" fill="url(#gL)"/>
<rect x="368.94" y="1295.17" width="34.68" height="34.43" fill="#ffffff"/>
<rect x="405.72" y="1295.17" width="34.68" height="34.43" fill="#ffffff"/>
<rect x="442.49" y="1295.17" width="34.68" height="34.43" fill="#ffffff"/>
<rect x="479.27" y="1295.17" width="34.73" height="34.43" fill="#ffffff"/>
<text transform="translate(63.65 1167.9) scale(0.9674 1)" font-size="16" font-weight="bold">Th0</text>
<text x="118.2" y="1167.1" font-size="16.2">Neutral</text>
<text transform="translate(62.45 1220.8) scale(0.9555 1)" font-size="16" font-weight="bold">Th1</text>
<line x1="100.9" y1="1188.9" x2="100.9" y2="1244.2" stroke="#000" stroke-width="2"/>
<text x="118.2" y="1203.2" font-size="16.2">Neutral</text>
<text x="144.2" y="1229.2" font-size="16.2" text-anchor="middle">TH1</text>
<text x="144.2" y="1249.1" font-size="16.2" text-anchor="middle">Condition</text>
<text x="58.41" y="1300.3" font-size="16.6" font-weight="bold">Th17</text>
<line x1="100.9" y1="1273.8" x2="100.9" y2="1329.4" stroke="#000" stroke-width="2"/>
<text x="118.2" y="1283.2" font-size="16.2">Neutral</text>
<text x="144.2" y="1313.3" font-size="16.2" text-anchor="middle">TH1</text>
<text x="144.2" y="1332.8" font-size="16.2" text-anchor="middle">Condition</text>
</svg>
</body>
</html>
